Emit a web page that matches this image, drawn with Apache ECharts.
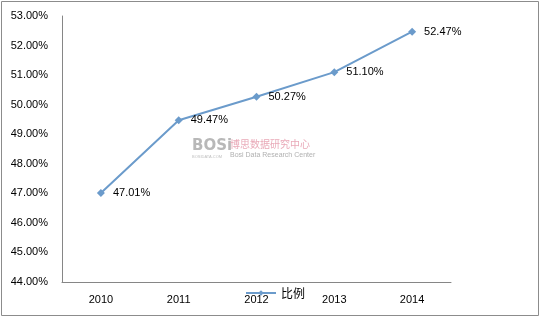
<!DOCTYPE html>
<html><head><meta charset="utf-8">
<script src="https://cdn.jsdelivr.net/npm/echarts@6/dist/echarts.min.js"></script>
<style>html,body{margin:0;padding:0;background:#fff}#c{width:541px;height:318px}</style>
</head><body><div id="c"></div>
<script>
const categories = ['2010','2011','2012','2013','2014'];
const values = [47.01, 49.47, 50.27, 51.10, 52.47];
const seriesName = '比例';
const yMin = 44, yMax = 53, yStep = 1;

const chart = echarts.init(document.getElementById('c'));
const font = '"Liberation Sans", Arial, sans-serif';
chart.setOption({
  animation: false,
  graphic: [
    {type:'rect', shape:{x:1.5,y:1.5,width:537,height:314}, style:{fill:'none', stroke:'#8c8c8c', lineWidth:1}},
    {type:'text', left:192, top:139, style:{text:'BOSi', font:'bold 15px "DejaVu Sans"', fill:'#b8b8b8'}},
    {type:'text', left:230, top:139, style:{text:'博思数据研究中心', font:'10px "Noto Sans CJK SC"', fill:'#e9a9b8'}},
    {type:'text', left:230, top:152, style:{text:'Bosi Data Research Center', font:'7px "Liberation Sans"', fill:'#b0b0b0'}},
    {type:'text', left:192, top:155, style:{text:'BOSIDATA.COM', font:'4px "Liberation Sans"', fill:'#c0c0c0'}}
  ],
  grid: {left:62, right:90, top:16, bottom:36},
  legend: {
    data:[seriesName], bottom:14, left:240, itemWidth:30, itemHeight:7, itemGap:3,
    textStyle:{fontSize:12, color:'#000', fontFamily:'"Noto Sans CJK SC"'}
  },
  xAxis: {
    type:'category', data:categories, boundaryGap:true,
    axisLine:{lineStyle:{color:'#868686'}}, axisTick:{show:false},
    axisLabel:{fontSize:11, color:'#000', margin:12, fontFamily:font}
  },
  yAxis: {
    type:'value', min:yMin, max:yMax, interval:yStep,
    axisLine:{show:true, lineStyle:{color:'#868686'}}, axisTick:{show:false},
    splitLine:{show:false},
    axisLabel:{fontSize:11, color:'#000', margin:14, fontFamily:font, formatter:v=>v.toFixed(2)+'%'}
  },
  series: [{
    name:seriesName, type:'line', data:values, symbol:'diamond', symbolSize:8,
    lineStyle:{color:'#6b9bcb', width:2}, itemStyle:{color:'#6b9bcb'},
    label:{show:true, position:'right', distance:8, fontSize:11, color:'#000', fontFamily:font, formatter:p=>p.value.toFixed(2)+'%'}
  }]
});
</script></body></html>
